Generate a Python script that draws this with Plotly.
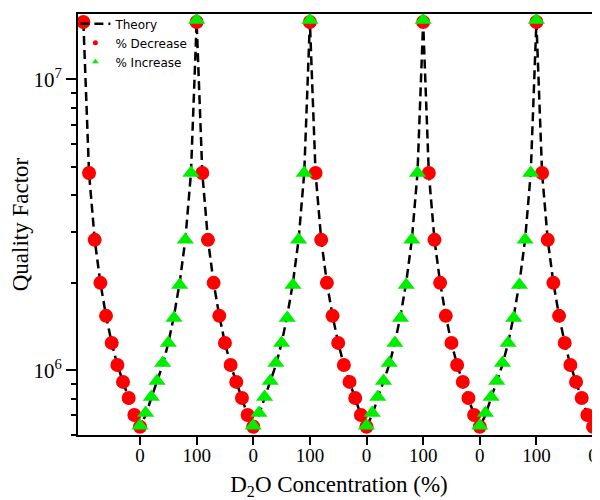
import plotly.graph_objects as go

# ---- data ----
conc_levels = [100, 90, 80, 70, 60, 50, 40, 30, 20, 10, 0]          # % D2O, descending
q_decrease = [1.576e7, 4.77e6, 2.81e6, 2.0e6, 1.54e6, 1.243e6, 1.044e6, 9.13e5, 8.04e5, 7.03e5, 6.40e5]
q_increase = [6.45e5, 7.14e5, 8.11e5, 9.20e5, 1.061e6, 1.243e6, 1.515e6, 1.967e6, 2.81e6, 4.77e6, 1.60e7]  # 0 -> 100 %
q_theory = [1.576e7, 4.77e6, 2.81e6, 2.0e6, 1.54e6, 1.243e6, 1.044e6, 9.13e5, 8.04e5, 7.03e5, 6.40e5]    # 100 -> 0 %
n_decrease_cycles = 5
n_increase_cycles = 4
tick_labels = ["0", "100", "0", "100", "0", "100", "0", "100", "0"]

# ---- build sequential (cycled) x positions ----
span = 100
dec_x, dec_y, inc_x, inc_y = [], [], [], []
for k in range(n_decrease_cycles):
    base = 2 * span * k
    for c, q in zip(conc_levels, q_decrease):
        dec_x.append(base + (span - c)); dec_y.append(q)
    dec_x.append(None); dec_y.append(None)
inc_conc = conc_levels[::-1]
for k in range(n_increase_cycles):
    base = 2 * span * k + span
    for c, q in zip(inc_conc, q_increase):
        inc_x.append(base + c); inc_y.append(q)
    inc_x.append(None); inc_y.append(None)

th_x, th_y = [], []
for k in range(n_decrease_cycles):
    base = 2 * span * k
    for c, q in zip(conc_levels, q_theory):
        th_x.append(base + (span - c)); th_y.append(q)
    if k < n_increase_cycles:
        for c, q in zip(inc_conc[1:], q_theory[::-1][1:]):
            th_x.append(base + span + c); th_y.append(q)

tick_vals = [span * (i + 1) for i in range(len(tick_labels))]

serif = "Times New Roman, Liberation Serif, serif"
sans = "Verdana, DejaVu Sans, sans-serif"

fig = go.Figure()
fig.add_trace(go.Scatter(x=th_x, y=th_y, mode="lines", name="Theory",
                         line=dict(color="black", width=2.5, dash="9px,5px"),
                         showlegend=True))
fig.add_trace(go.Scatter(x=dec_x, y=dec_y, mode="markers", name="% Decrease",
                         marker=dict(symbol="circle", size=14, color="#ff0000"),
                         showlegend=False))
fig.add_trace(go.Scatter(x=inc_x, y=inc_y, mode="markers", name="% Increase",
                         marker=dict(symbol="triangle-up", size=15, color="#00ee00"),
                         showlegend=False))
# legend-only entries with small symbols as in the reference
fig.add_trace(go.Scatter(x=[None], y=[None], mode="markers", name="% Decrease",
                         marker=dict(symbol="circle", size=5, color="#ff0000")))
fig.add_trace(go.Scatter(x=[None], y=[None], mode="markers", name="% Increase",
                         marker=dict(symbol="triangle-up", size=6, color="#00ee00")))

# the page body adds an 8px offset, so the figure is 592x492
fig.update_layout(
    width=592, height=492,
    margin=dict(l=70, r=0, t=6, b=65, autoexpand=False),
    plot_bgcolor="white", paper_bgcolor="white",
    legend=dict(x=-0.005, y=1.011, xanchor="left", yanchor="top",
                bgcolor="rgba(0,0,0,0)", font=dict(family=sans, size=12, color="black"),
                itemwidth=30, tracegroupgap=0),
    xaxis=dict(range=[-9.5, 912.3], showgrid=False, zeroline=False, automargin=False,
               showline=True, linecolor="black", linewidth=2, mirror=True,
               ticks="outside", ticklen=8, tickwidth=1.5, tickcolor="black",
               tickvals=tick_vals, ticktext=tick_labels, ticklabelstandoff=-6,
               tickfont=dict(family=serif, size=19, color="black"),
               title=dict(text="D<sub>2</sub>O Concentration (%)",
                          font=dict(family=serif, size=23, color="black"), standoff=11)),
    yaxis=dict(type="log", range=[5.778, 7.225], showgrid=False, zeroline=False, automargin=False,
               showline=True, linecolor="black", linewidth=2, mirror=False,
               ticks="outside", ticklen=10, tickwidth=1.5, tickcolor="black",
               tickvals=[1e6, 1e7], ticktext=["10<sup>6</sup>", "10<sup>7</sup>"],
               tickfont=dict(family=serif, size=21, color="black"),
               minor=dict(ticks="outside", ticklen=5, tickwidth=1.5, tickcolor="black",
                          tickvals=[m * 10 ** e for e in (5, 6) for m in range(2, 10)]),
               title=dict(text="Quality Factor",
                          font=dict(family=serif, size=23, color="black"), standoff=2)),
)

fig.write_html("out.html")
